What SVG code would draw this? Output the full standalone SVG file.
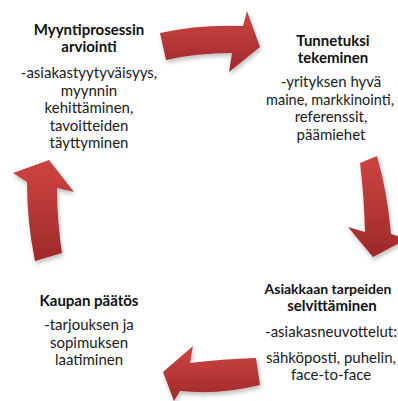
<svg xmlns="http://www.w3.org/2000/svg" width="398" height="401" viewBox="0 0 398 401">
  <defs>
    <linearGradient id="redFill" x1="0" y1="0" x2="0" y2="1">
      <stop offset="0" stop-color="#cd4543"/>
      <stop offset="1" stop-color="#9f2929"/>
    </linearGradient>
    <filter id="softShadow" x="-20%" y="-20%" width="140%" height="150%">
      <feDropShadow dx="1" dy="3" stdDeviation="2" flood-color="#000" flood-opacity="0.25"/>
    </filter>
  </defs>
  <style>
    .arrow { fill: url(#redFill); filter: url(#softShadow); }
    .title { font-family: Lato, "Liberation Sans", sans-serif; font-weight: bold; font-size: 15px; fill: #111; text-anchor: middle; }
    .body { font-family: Lato, "Liberation Sans", sans-serif; font-size: 15px; fill: #1a1a1a; text-anchor: middle; }
  </style>
  <rect width="398" height="401" fill="#fff"/>

  <!-- curved cycle arrows -->
  <g id="connectors">
    <path class="arrow" d="M160,33 Q200,24 243,26 L247,11 L260,47 L229,72 L232,53 Q196,53 166,60 Z"/>
    <path class="arrow" d="M360,163 L377,156 Q387,190 391,234 L407,239 L373,257 L348,227 L365,232 Q364,195 360,163 Z"/>
    <path class="arrow" d="M256,358 Q222,359 190,363 L193,346 L163,372 L174,401 L180,391 Q220,395 260,385 Z"/>
    <path class="arrow" d="M35,261 L62,253 Q57,220 57,188 L74,192 L49,160 L13,173 L27,182 Q27,222 35,261 Z"/>
  </g>

  <g id="arviointi">
    <text class="title" x="89" y="35">Myyntiprosessin</text>
    <text class="title" x="89" y="52">arviointi</text>
    <text class="body" x="89" y="78">-asiakastyytyväisyys,</text>
    <text class="body" x="89" y="95.5">myynnin</text>
    <text class="body" x="89" y="113">kehittäminen,</text>
    <text class="body" x="89" y="130.5">tavoitteiden</text>
    <text class="body" x="89" y="148">täyttyminen</text>
  </g>

  <g id="tunnetuksi">
    <text class="title" x="333" y="46">Tunnetuksi</text>
    <text class="title" x="333" y="63">tekeminen</text>
    <text class="body" x="331" y="87">-yrityksen hyvä</text>
    <text class="body" x="330" y="104.5" textLength="128" lengthAdjust="spacingAndGlyphs">maine, markkinointi,</text>
    <text class="body" x="331" y="122">referenssit,</text>
    <text class="body" x="331" y="139.5">päämiehet</text>
  </g>

  <g id="tarpeet">
    <text class="title" x="328" y="294" style="font-size:14px">Asiakkaan tarpeiden</text>
    <text class="title" x="332" y="311">selvittäminen</text>
    <text class="body" x="331" y="337">-asiakasneuvottelut:</text>
    <text class="body" x="331" y="363">sähköposti, puhelin,</text>
    <text class="body" x="331" y="380">face-to-face</text>
  </g>

  <g id="paatos">
    <text class="title" x="89" y="306">Kaupan päätös</text>
    <text class="body" x="89" y="330">-tarjouksen ja</text>
    <text class="body" x="89" y="347.5">sopimuksen</text>
    <text class="body" x="89" y="365">laatiminen</text>
  </g>
</svg>
